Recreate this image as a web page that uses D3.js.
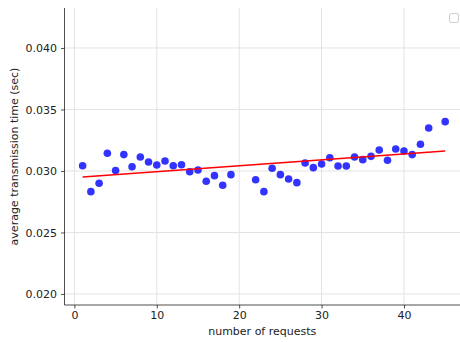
<!DOCTYPE html>
<html><head><meta charset="utf-8">
<script src="https://cdn.jsdelivr.net/npm/d3@7"></script>
<style>body{margin:0;background:#fff}svg{display:block}text{font-family:"DejaVu Sans",sans-serif}</style>
</head><body>
<svg id="c" width="460" height="342"></svg>
<script>
const requests = [1,2,3,4,5,6,7,8,9,10,11,12,13,14,15,16,17,18,19,22,23,24,25,26,27,28,29,30,31,32,33,34,35,36,37,38,39,40,41,42,43,45];
const avgTime = [0.03043,0.02832,0.02900,0.03144,0.03003,0.03133,0.03035,0.03114,0.03073,0.03049,0.03081,0.03043,0.03051,0.02994,0.03008,0.02916,0.02962,0.02884,0.02970,
  0.02929,0.02832,0.03022,0.02970,0.02935,0.02905,0.03065,0.03027,0.03057,0.03108,0.03041,0.03041,0.03114,0.03092,0.03119,0.03171,0.03087,0.03179,0.03163,0.03133,0.03217,0.03350,0.03401];
const fitX = [1, 45];
const fitY = [0.02951, 0.03162];
const xTicks = [0,10,20,30,40];
const yTicks = [0.020,0.025,0.030,0.035,0.040];

const L=64.5, R=460, T=8, B=305;
const svg = d3.select("#c");
const x = d3.scaleLinear().domain([-1.2,46.8]).range([L,R]);
const y = d3.scaleLinear().domain([0.019105,0.04325]).range([B,T]);

// grid
svg.append("g").selectAll("line").data(xTicks).join("line")
  .attr("x1",d=>x(d)).attr("x2",d=>x(d)).attr("y1",T).attr("y2",B)
  .attr("stroke","#e3e3e3").attr("stroke-width",1);
svg.append("g").selectAll("line").data(yTicks).join("line")
  .attr("x1",L).attr("x2",R).attr("y1",d=>y(d)).attr("y2",d=>y(d))
  .attr("stroke","#e3e3e3").attr("stroke-width",1);

// axes
const xa = svg.append("g").attr("transform",`translate(0,${B})`)
  .call(d3.axisBottom(x).tickValues(xTicks).tickFormat(d3.format("d")).tickSize(3.5).tickPadding(2.5));
const ya = svg.append("g").attr("transform",`translate(${L},0)`)
  .call(d3.axisLeft(y).tickValues(yTicks).tickFormat(d3.format(".3f")).tickSize(3.5).tickPadding(4));
[xa,ya].forEach(g=>{
  g.select(".domain").remove();
  g.selectAll("line").attr("stroke","#222").attr("stroke-width",0.8);
  g.selectAll("text").attr("font-size",11).attr("fill","#222").attr("font-family","DejaVu Sans");
});
svg.append("line").attr("x1",L).attr("x2",L).attr("y1",T).attr("y2",B).attr("stroke","#222").attr("stroke-width",0.8);
svg.append("line").attr("x1",L).attr("x2",R).attr("y1",B).attr("y2",B).attr("stroke","#222").attr("stroke-width",0.8);

// points
svg.append("g").selectAll("circle").data(requests).join("circle")
  .attr("cx",d=>x(d)).attr("cy",(d,i)=>y(avgTime[i])).attr("r",3.8)
  .attr("fill","#0000ff").attr("fill-opacity",0.8);

// fit line
svg.append("path").datum(fitX.map((d,i)=>[d,fitY[i]]))
  .attr("d",d3.line().x(d=>x(d[0])).y(d=>y(d[1])))
  .attr("fill","none").attr("stroke","#ff0000").attr("stroke-width",1.5);

// empty legend box
svg.append("rect").attr("x",449.5).attr("y",13.5).attr("width",9).attr("height",9).attr("rx",1.5)
  .attr("fill","#fff").attr("stroke","#d0d0d0").attr("stroke-width",1);

// labels
svg.append("text").attr("x",(L+R)/2).attr("y",335).attr("text-anchor","middle").attr("font-size",11).attr("fill","#222").text("number of requests");
svg.append("text").attr("transform",`translate(18,${(T+B)/2}) rotate(-90)`).attr("text-anchor","middle").attr("font-size",11).attr("fill","#222").text("average transmission time (sec)");
</script>
</body></html>
